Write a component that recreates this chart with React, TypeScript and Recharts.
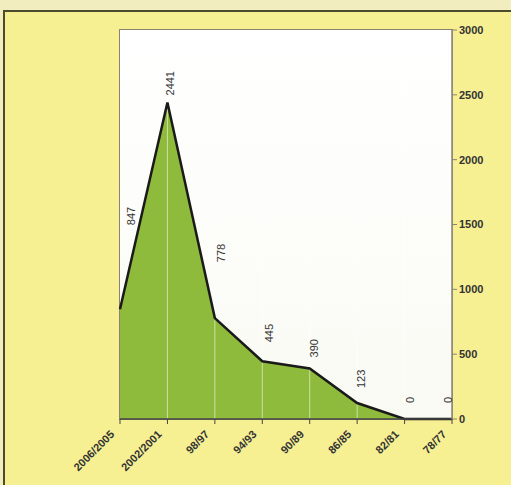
import {
    Area,
    ComposedChart,
    LabelList,
    Line,
    ReferenceLine,
    XAxis,
    YAxis,
} from "recharts";

const periods = [
    "2006/2005",
    "2002/2001",
    "98/97",
    "94/93",
    "90/89",
    "86/85",
    "82/81",
    "78/77",
];
const counts = [847, 2441, 778, 445, 390, 123, 0, 0];
const yTicks = [0, 500, 1000, 1500, 2000, 2500, 3000];

const data = periods.map((period, i) => ({ period, count: counts[i] }));

// label placement tweaks (screen px), one per point
const labelDx = [11, 3, 6, 7, 4, 4, 5, -4];
const labelLift = [84, 7, 56, 19, 11, 15, 16, 16];

const font = "Arial, 'Liberation Sans', sans-serif";

function PeriodTick({ x, y, payload }: any) {
    return (
        <g transform={`translate(${x - 5},${y + 9})`}>
            <text
                x={0}
                y={0}
                textAnchor="end"
                transform="rotate(-45)"
                fontSize={11}
                fontWeight="bold"
                fill="#333"
                fontFamily={font}
            >
                {payload.value}
            </text>
        </g>
    );
}

function ValueLabel({ x, y, value, index }: any) {
    const tx = x + labelDx[index] + 4;
    const ty = y - labelLift[index];
    return (
        <text
            x={tx}
            y={ty}
            transform={`rotate(-90 ${tx} ${ty})`}
            textAnchor="start"
            fontSize={11}
            fill="#333"
            fontFamily={font}
        >
            {value}
        </text>
    );
}

export default function App() {
    return (
        <div
            style={{
                position: "absolute",
                left: 0,
                top: 0,
                width: 511,
                height: 485,
                background: "#f1edbf",
                overflow: "hidden",
            }}
        >
            <div
                style={{
                    position: "absolute",
                    left: 3,
                    top: 10,
                    width: 520,
                    height: 490,
                    borderTop: "2px solid #4c4b2b",
                    borderLeft: "2px solid #4c4b2b",
                    background: "#f6f093",
                }}
            />
            <div
                style={{
                    position: "absolute",
                    left: 119,
                    top: 29,
                    width: 332,
                    height: 389,
                    border: "1px solid #8c8270",
                    background: "linear-gradient(#ffffff, #fafaf4)",
                }}
            />
            <div style={{ position: "absolute", left: 0, top: 0 }}>
                <ComposedChart
                    width={511}
                    height={485}
                    data={data}
                    margin={{ top: 30, right: 9, bottom: 0, left: 120 }}
                >
                    <XAxis
                        dataKey="period"
                        height={66}
                        interval={0}
                        tick={<PeriodTick />}
                        tickSize={5}
                        axisLine={{ stroke: "#444", strokeWidth: 1.5 }}
                        tickLine={{ stroke: "#444" }}
                    />
                    <YAxis
                        orientation="right"
                        width={50}
                        domain={[0, 3000]}
                        ticks={yTicks}
                        interval={0}
                        tickSize={5}
                        axisLine={{ stroke: "#8c8270", strokeWidth: 1.5 }}
                        tickLine={{ stroke: "#8c8270" }}
                        tick={{
                            fontSize: 11,
                            fontWeight: "bold",
                            fill: "#333",
                            fontFamily: font,
                        }}
                    />
                    <Area
                        type="linear"
                        dataKey="count"
                        fill="#8fbb3c"
                        fillOpacity={1}
                        stroke="none"
                        isAnimationActive={false}
                    />
                    {periods.slice(1).map((p) => (
                        <ReferenceLine
                            key={p}
                            x={p}
                            stroke="#ffffff"
                            strokeOpacity={0.55}
                        />
                    ))}
                    <Line
                        type="linear"
                        dataKey="count"
                        stroke="#1a1a1a"
                        strokeWidth={2.5}
                        dot={false}
                        isAnimationActive={false}
                    >
                        <LabelList dataKey="count" content={<ValueLabel />} />
                    </Line>
                </ComposedChart>
            </div>
        </div>
    );
}
